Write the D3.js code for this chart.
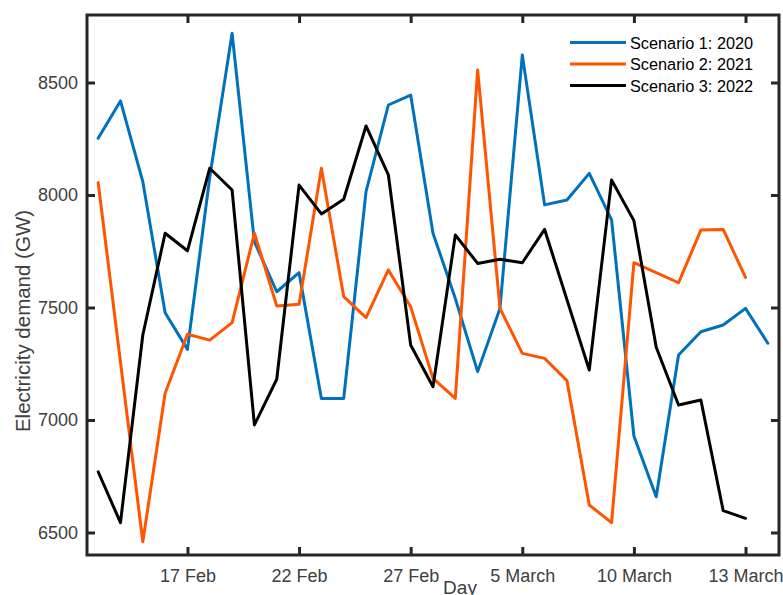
<!DOCTYPE html>
<html>
<head>
<meta charset="utf-8">
<script src="https://cdn.jsdelivr.net/npm/d3@7"></script>
<style>
  html, body { margin: 0; padding: 0; background: #fff; }
  svg { display: block; font-family: "Liberation Sans", Arial, sans-serif; }
</style>
</head>
<body>
<svg id="chart" width="783" height="595"></svg>
<script>
// Daily electricity demand (GW) for three scenarios
const dayIndex = d3.range(31);
const scenario1 = [8252, 8418, 8059, 7477, 7314, 8080, 8719, 7792, 7570, 7655, 7096, 7096, 8015, 8400, 8444, 7830, 7540, 7215, 7496, 8622, 7956, 7978, 8096, 7889, 6929, 6659, 7289, 7392, 7422, 7496, 7341];
const scenario2 = [8055, 7257, 6459, 7119, 7381, 7355, 7433, 7830, 7507, 7514, 8119, 7548, 7455, 7667, 7503, 7185, 7096, 8556, 7496, 7296, 7274, 7175, 6622, 6544, 7699, 7655, 7610, 7844, 7847, 7634];
const scenario3 = [6770, 6544, 7378, 7830, 7752, 8119, 8022, 6978, 7181, 8044, 7916, 7981, 8307, 8089, 7333, 7148, 7822, 7696, 7714, 7699, 7847, 7535, 7222, 8067, 7886, 7323, 7067, 7089, 6597, 6563];
const seriesNames = ["Scenario 1: 2020", "Scenario 2: 2021", "Scenario 3: 2022"];
const seriesColors = ["#0072BD", "#FF5400", "#000000"];
const xTickIndex = [4, 9, 14, 19, 24, 29];
const xTickLabels = ["17 Feb", "22 Feb", "27 Feb", "5 March", "10 March", "13 March"];
const yTicks = [6500, 7000, 7500, 8000, 8500];

const plotLeft = 87, plotRight = 779, plotTop = 15, plotBottom = 555;
const axisColor = "#262626", labelColor = "#404040";

const svg = d3.select("#chart");
const x = d3.scaleLinear().domain([-0.5, 30.5]).range([plotLeft, plotRight]);
const y = d3.scaleLinear().domain([6400, 8800]).range([plotBottom, plotTop]);

// Series lines
const line = d3.line().x((d, i) => x(dayIndex[i])).y(d => y(d));
[scenario1, scenario2, scenario3].forEach((vals, k) => {
  svg.append("path")
    .attr("d", line(vals))
    .attr("fill", "none")
    .attr("stroke", seriesColors[k])
    .attr("stroke-width", 3)
    .attr("stroke-linejoin", "round")
    .attr("stroke-linecap", "round");
});

// Axes: ticks point inward, box on all four sides
const tickLen = 8;
const xFmt = (d) => xTickLabels[xTickIndex.indexOf(d)];
const xBottom = d3.axisBottom(x).tickValues(xTickIndex).tickFormat(xFmt).tickSizeInner(-tickLen).tickSizeOuter(0).tickPadding(14);
const xTop = d3.axisTop(x).tickValues(xTickIndex).tickFormat("").tickSizeInner(-tickLen).tickSizeOuter(0);
const yLeft = d3.axisLeft(y).tickValues(yTicks).tickFormat(d3.format("d")).tickSizeInner(-tickLen).tickSizeOuter(0).tickPadding(9);
const yRight = d3.axisRight(y).tickValues(yTicks).tickFormat("").tickSizeInner(-tickLen).tickSizeOuter(0);

function styleAxis(g) {
  g.select(".domain").remove();
  g.selectAll(".tick line").attr("stroke", axisColor).attr("stroke-width", 3);
  g.selectAll(".tick text").attr("fill", labelColor).attr("font-size", 18)
    .attr("font-family", "Liberation Sans, Arial, sans-serif");
}

svg.append("g").attr("transform", `translate(0,${plotBottom})`).call(xBottom).call(styleAxis);
svg.append("g").attr("transform", `translate(0,${plotTop})`).call(xTop).call(styleAxis);
svg.append("g").attr("transform", `translate(${plotLeft},0)`).call(yLeft).call(styleAxis);
svg.append("g").attr("transform", `translate(${plotRight},0)`).call(yRight).call(styleAxis);

// Frame
svg.append("rect")
  .attr("x", plotLeft).attr("y", plotTop)
  .attr("width", plotRight - plotLeft).attr("height", plotBottom - plotTop)
  .attr("fill", "none").attr("stroke", axisColor).attr("stroke-width", 3);

// Axis titles
svg.append("text")
  .attr("x", 460).attr("y", 594)
  .attr("text-anchor", "middle")
  .attr("font-size", 19).attr("fill", labelColor)
  .text("Day");
svg.append("text")
  .attr("transform", "translate(30,321) rotate(-90)")
  .attr("text-anchor", "middle")
  .attr("font-size", 20.5).attr("fill", labelColor)
  .text("Electricity demand (GW)");

// Legend
const legendRows = [42.5, 64, 85.5];
seriesNames.forEach((name, k) => {
  const g = svg.append("g").attr("transform", `translate(0,${legendRows[k]})`);
  g.append("line").attr("x1", 570).attr("x2", 626).attr("y1", 0).attr("y2", 0)
    .attr("stroke", seriesColors[k]).attr("stroke-width", 3);
  g.append("text").attr("x", 630).attr("y", 6)
    .attr("font-size", 16.3).attr("fill", "#000").text(name);
});
</script>
</body>
</html>
